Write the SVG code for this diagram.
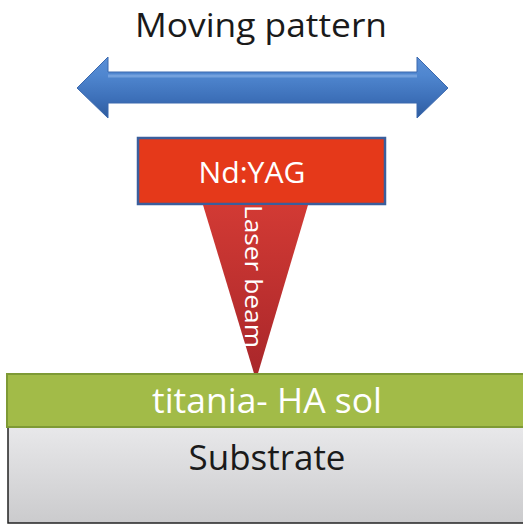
<svg xmlns="http://www.w3.org/2000/svg" width="523" height="525" viewBox="0 0 523 525">
<defs>
<linearGradient id="gArrow" x1="0" y1="0" x2="0" y2="1">
<stop offset="0" stop-color="#5B8FD6"/>
<stop offset="0.3" stop-color="#4F86CF"/>
<stop offset="0.7" stop-color="#3C6FB8"/>
<stop offset="1" stop-color="#2F5C9E"/>
</linearGradient>
<linearGradient id="gBeam" x1="0" y1="0" x2="0" y2="1">
<stop offset="0" stop-color="#D23A34"/>
<stop offset="1" stop-color="#A8262A"/>
</linearGradient>
<linearGradient id="gSub" x1="0" y1="0" x2="0" y2="1">
<stop offset="0" stop-color="#E8E8EA"/>
<stop offset="1" stop-color="#CBCBCD"/>
</linearGradient>
<style>
.t{font-family:"Open Sans","Liberation Sans",sans-serif;text-anchor:middle}
</style>
</defs>
<rect width="523" height="525" fill="#fff"/>
<g id="title"><text class="t" x="261" y="37" font-size="33" fill="#1a1a1a" textLength="252" lengthAdjust="spacingAndGlyphs">Moving pattern</text></g>
<g id="arrow">
<path d="M77,88 L108,57 L108,72 L417,72 L417,57 L448,88 L417,118 L417,103 L108,103 L108,118 Z" fill="url(#gArrow)" stroke="#3A68AE" stroke-width="1"/>
<path d="M108,76 L417,76" stroke="#8CB4E8" stroke-width="3" opacity="0.6"/>
</g>
<g id="laser">
<rect x="138" y="138" width="247" height="66" fill="#E5391A" stroke="#3B5E9C" stroke-width="2.5"/>
<text class="t" x="252" y="183" font-size="29" fill="#fff" textLength="107" lengthAdjust="spacingAndGlyphs">Nd:YAG</text>
</g>
<g id="beam">
<path d="M203,205 L308,205 L256,380 Z" fill="url(#gBeam)"/>
<text class="t" transform="translate(245,276.5) rotate(90)" font-size="24" fill="#fff" textLength="143" lengthAdjust="spacingAndGlyphs">Laser beam</text>
</g>
<g id="substrate">
<rect x="8" y="427" width="520" height="96" fill="url(#gSub)" stroke="#222" stroke-width="1.5"/>
<text class="t" x="267" y="470" font-size="34" fill="#1a1a1a" textLength="157" lengthAdjust="spacingAndGlyphs">Substrate</text>
</g>
<g id="sol">
<rect x="7" y="374" width="521" height="53" fill="#A2BB48" stroke="#7E9A35" stroke-width="2"/>
<text class="t" x="267" y="413" font-size="34" fill="#fff" textLength="230" lengthAdjust="spacingAndGlyphs">titania- HA sol</text>
</g>
</svg>
